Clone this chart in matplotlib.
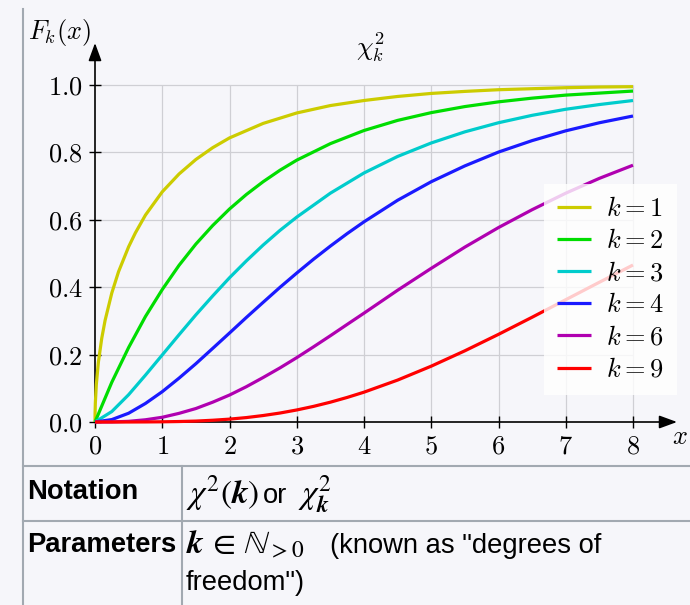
import matplotlib
matplotlib.use("Agg")
import matplotlib.pyplot as plt

plt.rcParams["mathtext.fontset"] = "cm"
plt.rcParams["font.family"] = ["Liberation Sans", "DejaVu Sans"]

# ---------------- data ----------------
x_k1 = [0, 0.001, 0.005, 0.02, 0.05, 0.1, 0.15, 0.25, 0.35, 0.5, 0.6, 0.75, 1, 1.25, 1.5,
        1.75, 2, 2.5, 3, 3.5, 4, 4.5, 5, 5.5, 6, 6.5, 7, 7.5, 8]
y_k1 = [0, 0.025, 0.056, 0.112, 0.177, 0.248, 0.3015, 0.383, 0.446, 0.520, 0.561, 0.614,
        0.683, 0.736, 0.779, 0.814, 0.843, 0.886, 0.917, 0.939, 0.954, 0.966, 0.975, 0.981,
        0.986, 0.989, 0.992, 0.994, 0.995]

x_k2 = [0, 0.25, 0.5, 0.75, 1, 1.25, 1.5, 1.75, 2, 2.25, 2.5, 2.75, 3, 3.5, 4, 4.5, 5,
        5.5, 6, 6.5, 7, 7.5, 8]
y_k2 = [0, 0.118, 0.221, 0.313, 0.393, 0.465, 0.528, 0.583, 0.632, 0.675, 0.713, 0.747,
        0.777, 0.826, 0.865, 0.895, 0.918, 0.936, 0.950, 0.961, 0.970, 0.976, 0.982]

x_k3 = [0, 0.25, 0.5, 0.75, 1, 1.25, 1.5, 1.75, 2, 2.25, 2.5, 2.75, 3, 3.5, 4, 4.5, 5,
        5.5, 6, 6.5, 7, 7.5, 8]
y_k3 = [0, 0.031, 0.081, 0.139, 0.199, 0.259, 0.318, 0.374, 0.428, 0.478, 0.525, 0.5685,
        0.608, 0.679, 0.739, 0.788, 0.828, 0.861, 0.888, 0.910, 0.928, 0.942, 0.954]

x_fine = [0, 0.25, 0.5, 0.75, 1, 1.25, 1.5, 1.75, 2, 2.25, 2.5, 2.75, 3, 3.25, 3.5, 3.75,
          4, 4.5, 5, 5.5, 6, 6.5, 7, 7.5, 8]
y_k4 = [0, 0.0072, 0.026, 0.055, 0.090, 0.1302, 0.173, 0.2184, 0.264, 0.3101, 0.355,
        0.3995, 0.442, 0.4831, 0.522, 0.5591, 0.594, 0.658, 0.713, 0.760, 0.801, 0.835,
        0.864, 0.888, 0.908]
y_k6 = [0, 0.0003, 0.002, 0.0066, 0.014, 0.0257, 0.040, 0.0588, 0.080, 0.1047, 0.132,
        0.1605, 0.191, 0.2231, 0.256, 0.2896, 0.323, 0.391, 0.456, 0.519, 0.577, 0.630,
        0.679, 0.723, 0.762]
y_k9 = [0, 0.0, 0.0, 0.0002, 0.0006, 0.0014, 0.0027, 0.0052, 0.0085, 0.0131, 0.0192,
        0.0266, 0.0357, 0.0464, 0.0588, 0.0729, 0.0885, 0.1244, 0.1657, 0.2113, 0.2601,
        0.3109, 0.3629, 0.4147, 0.4659]

series_k = [1, 2, 3, 4, 6, 9]
series_x = [x_k1, x_k2, x_k3, x_fine, x_fine, x_fine]
series_y = [y_k1, y_k2, y_k3, y_k4, y_k6, y_k9]
colors = ["#cccc00", "#00dd00", "#00cccc", "#1a1aff", "#b000b0", "#ff0000"]

xticks = [0, 1, 2, 3, 4, 5, 6, 7, 8]
xtick_labels = ["0", "1", "2", "3", "4", "5", "6", "7", "8"]
yticks = [0.0, 0.2, 0.4, 0.6, 0.8, 1.0]
ytick_labels = ["0.0", "0.2", "0.4", "0.6", "0.8", "1.0"]

# ---------------- figure ----------------
BG = "#f6f6fa"
W, H = 690, 605
fig = plt.figure(figsize=(W / 100, H / 100), dpi=100, facecolor=BG)

x0_px, x8_px, xend_px = 95, 633, 677
y0_px, y1_px, yend_px = 422, 85, 43
ppx = (x8_px - x0_px) / 8.0
ppy = (y0_px - y1_px) / 1.0

ax = fig.add_axes([x0_px / W, (H - y0_px) / H, (xend_px - x0_px) / W, (y0_px - yend_px) / H])
ax.set_facecolor("none")
ax.set_xlim(0, (xend_px - x0_px) / ppx)
ax.set_ylim(0, (y0_px - yend_px) / ppy)
for s in ax.spines.values():
    s.set_visible(False)

ax.set_xticks(xticks, labels=[f"${t}$" for t in xtick_labels])
ax.set_yticks(yticks, labels=[f"${t}$" for t in ytick_labels])
ax.tick_params(direction="inout", length=8, width=1.0, pad=5, labelsize=19, color="black")

# grid
ax.hlines(yticks[1:], 0, xticks[-1], colors="#cfcfd4", lw=0.9, zorder=0)
ax.vlines(xticks[1:], 0, yticks[-1], colors="#cfcfd4", lw=0.9, zorder=0)

# axes arrows
arrow = dict(arrowstyle="-|>,head_length=0.9,head_width=0.33", lw=1.2, color="black",
             shrinkA=0, shrinkB=0, mutation_scale=12)
ax.annotate("", xy=(ax.get_xlim()[1], 0), xytext=(0, 0), arrowprops=arrow,
            annotation_clip=False, zorder=1)
ax.annotate("", xy=(0, ax.get_ylim()[1]), xytext=(0, 0), arrowprops=arrow,
            annotation_clip=False, zorder=1)

for k, xs, ys, c in zip(series_k, series_x, series_y, colors):
    ax.plot(xs, ys, color=c, lw=2.3, label=f"$k{{=}}{k}$", clip_on=False,
            solid_joinstyle="round", solid_capstyle="butt", zorder=3)

leg = ax.legend(loc="lower right", bbox_to_anchor=(1.0, (y0_px - 395) / (y0_px - yend_px)),
                fontsize=19, frameon=True, fancybox=False, framealpha=0.8,
                facecolor="white", edgecolor="none", handlelength=1.3,
                handletextpad=0.55, labelspacing=0.31, borderpad=0.5, borderaxespad=0)
leg.set_zorder(5)

fig.text(370 / W, 1 - 47 / H, r"$\chi^2_k$", fontsize=19, ha="center", va="center")
fig.text(28 / W, 1 - 33 / H, r"$F_k(x)$", fontsize=19, ha="left", va="center")
fig.text(680 / W, 1 - 437 / H, r"$x$", fontsize=19, ha="center", va="center")

# ---------------- table below ----------------
tab = fig.add_axes([0, 0, 1, 1])
tab.set_xlim(0, W)
tab.set_ylim(H, 0)
tab.axis("off")
lc = "#a2a9b1"
tab.plot([22.5, 22.5], [9, H], color=lc, lw=1.5)
tab.plot([22.5, W], [466, 466], color=lc, lw=1.5)
tab.plot([22.5, W], [521, 521], color=lc, lw=1.5)
tab.plot([182, 182], [466, H], color=lc, lw=1.5)

fs = 19.7
mfs = 24
tab.text(27, 499, "Notation", fontsize=fs, fontweight="bold", ha="left", va="baseline")
tab.text(27, 552, "Parameters", fontsize=fs, fontweight="bold", ha="left", va="baseline")
tab.text(186, 503, r"$\chi^2(\mathbfit{k})$", fontsize=mfs, ha="left", va="baseline",
         math_fontfamily="stix")
tab.text(263, 503, "or", fontsize=fs, ha="left", va="baseline")
tab.text(298, 503, r"$\chi^2_{\mathbfit{k}}$", fontsize=mfs, ha="left", va="baseline",
         math_fontfamily="stix")
tab.text(186, 553, r"$\mathbfit{k}\,\in\,\mathbb{N}_{>0}$", fontsize=mfs, ha="left",
         va="baseline", math_fontfamily="stix")
tab.text(330, 553, '(known as "degrees of', fontsize=fs, ha="left", va="baseline")
tab.text(186, 590, 'freedom")', fontsize=fs, ha="left", va="baseline")

fig.savefig("out.png", dpi=100, facecolor=BG)
